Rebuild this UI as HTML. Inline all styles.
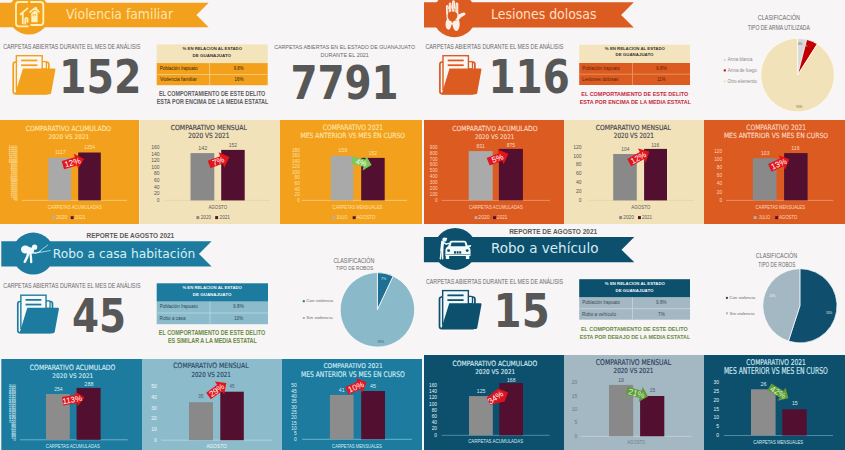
<!DOCTYPE html>
<html lang="es"><head><meta charset="utf-8"><title>Reporte de agosto 2021</title>
<style>
html,body{margin:0;padding:0;background:#f7f5f6}
body{width:845px;height:450px;overflow:hidden;position:relative;font-family:"Liberation Sans",sans-serif}
svg{display:block;position:absolute;left:0;top:0}
text{font-family:"Liberation Sans",sans-serif}
</style></head><body>
<svg width="845" height="450" viewBox="0 0 845 450" font-family="Liberation Sans, Arial, sans-serif">
<polygon points="0,2.7 208.7,2.7 196.4,14.95 208.7,27.2 0,27.2" fill="#f3a01c"/>
<circle cx="28.9" cy="13.8" r="20.8" fill="#f3a01c"/>
<g fill="none" stroke="#fff1b5" stroke-width="1.8" stroke-linecap="round" stroke-linejoin="round"><path d="M27.4,2.0 L18.9,2.0 Q16.0,2.0 16.0,4.9 L16.0,23.6 Q16.0,26.4 18.9,26.4 L27.8,26.4"/><path d="M31.0,2.0 L40.4,2.0 Q43.3,2.0 43.3,4.9 L43.3,22.2 Q43.3,25.0 40.4,25.0 L31.2,25.0"/><path d="M20.6,14.3 L27.5,8.4"/><path d="M22.8,13.2 L22.8,23.4"/><path d="M25.3,23.6 L25.3,18.8 Q26.4,17.2 27.6,18.8 L27.6,21.8"/><path d="M30.1,11.9 L35.2,7.9 L38.8,11.9"/></g>
<path d="M31.3,13.2 L35.2,10.2 L37.6,12.6 L37.6,22.2 L31.3,22.2 Z" fill="#fff1b5"/>
<rect x="32.6" y="14.2" width="1.2" height="1.4" fill="#f3a01c"/><rect x="34.6" y="14.2" width="1.2" height="1.4" fill="#f3a01c"/>
<rect x="35.6" y="7.2" width="1.3" height="2.6" fill="#fff1b5"/>
<text x="65.90" y="18.90" font-size="13.31" fill="#fde6b0" textLength="107.10" lengthAdjust="spacingAndGlyphs" font-family="DejaVu Sans" style="font-family:'DejaVu Sans',sans-serif">Violencia familiar</text>
<text x="3.13" y="48.90" font-size="6.86" fill="#6a6a6a" textLength="137.11" lengthAdjust="spacingAndGlyphs">CARPETAS ABIERTAS DURANTE EL MES DE ANÁLISIS</text>
<g transform="translate(12.30,55.00) scale(1.0163,0.9925)"><rect x="0.9" y="7.2" width="35" height="31.9" rx="2.2" fill="#fbf7f4" stroke="#f3a01c" stroke-width="1.7"/><rect x="28.9" y="6.6" width="4.6" height="7.5" rx="1.3" fill="#fbf7f4" stroke="#f3a01c" stroke-width="1.3"/><rect x="4.0" y="0.7" width="25.4" height="34" fill="#fbf7f4" stroke="#f3a01c" stroke-width="1.4"/><rect x="8.7" y="4.6" width="16" height="1.8" fill="#f3a01c"/><rect x="8.7" y="9.4" width="16" height="1.8" fill="#f3a01c"/><path d="M10.5,13.6 L41.5,13.6 Q42.6,13.6 42.4,14.8 L38.2,38.2 Q38,39.6 36.6,39.6 L2.6,39.6 Z" fill="#f3a01c"/></g>
<text x="58.94" y="92.50" font-size="45.54" fill="#575757" font-weight="bold" textLength="82.49" lengthAdjust="spacingAndGlyphs" font-family="DejaVu Sans" style="font-family:'DejaVu Sans',sans-serif">152</text>
<rect x="156.70" y="44.40" width="111.00" height="18.70" fill="#f4e4bb"/>
<rect x="156.70" y="63.10" width="111.00" height="22.10" fill="#f3a01c"/>
<line x1="156.7" y1="74.5" x2="267.7" y2="74.5" stroke="#f8d08a" stroke-width="0.8"/>
<line x1="209.6" y1="63.1" x2="209.6" y2="85.2" stroke="#f8d08a" stroke-width="0.8"/>
<text x="182.60" y="50.40" font-size="4.14" fill="#3a3530" font-weight="bold" textLength="59.38" lengthAdjust="spacingAndGlyphs">% EN RELACION AL ESTADO</text>
<text x="192.50" y="56.60" font-size="4.14" fill="#3a3530" font-weight="bold" textLength="38.58" lengthAdjust="spacingAndGlyphs">DE GUANAJUATO</text>
<text x="159.73" y="69.75" font-size="5.00" fill="#2e2410" textLength="37.86" lengthAdjust="spacingAndGlyphs">Población Irapuato</text>
<text x="233.80" y="69.75" font-size="5.00" fill="#2e2410" textLength="9.65" lengthAdjust="spacingAndGlyphs">9.8%</text>
<text x="160.08" y="80.65" font-size="5.00" fill="#2e2410" textLength="36.70" lengthAdjust="spacingAndGlyphs">Violencia familiar</text>
<text x="234.46" y="80.65" font-size="5.00" fill="#2e2410" textLength="9.00" lengthAdjust="spacingAndGlyphs">16%</text>
<text x="158.94" y="96.20" font-size="6.29" fill="#5e5e5e" font-weight="bold" textLength="106.39" lengthAdjust="spacingAndGlyphs">EL COMPORTAMIENTO DE ESTE DELITO</text>
<text x="156.65" y="103.90" font-size="6.29" fill="#5e5e5e" font-weight="bold" textLength="111.71" lengthAdjust="spacingAndGlyphs">ESTA POR ENCIMA  DE LA MEDIA ESTATAL</text>
<text x="274.13" y="49.30" font-size="5.71" fill="#6a6a6a" textLength="140.92" lengthAdjust="spacingAndGlyphs">CARPETAS ABIERTAS EN EL ESTADO DE GUANAJUATO</text>
<text x="320.55" y="57.00" font-size="6.00" fill="#6a6a6a" textLength="48.32" lengthAdjust="spacingAndGlyphs">DURANTE EL 2021</text>
<text x="290.40" y="98.70" font-size="45.95" fill="#575757" font-weight="bold" textLength="108.28" lengthAdjust="spacingAndGlyphs" font-family="DejaVu Sans" style="font-family:'DejaVu Sans',sans-serif">7791</text>
<rect x="0.00" y="120.00" width="139.00" height="104.00" fill="#f3a01c"/>
<rect x="139.50" y="120.00" width="140.50" height="104.00" fill="#f2e2b9"/>
<rect x="280.00" y="120.00" width="142.00" height="104.00" fill="#f3a01c"/>
<text x="25.76" y="130.70" font-size="7.13" fill="#fde4ab" textLength="85.37" lengthAdjust="spacingAndGlyphs" font-family="DejaVu Sans" style="font-family:'DejaVu Sans',sans-serif" stroke="#fde4ab" stroke-width="0.15">COMPARATIVO ACUMULADO</text>
<text x="48.58" y="138.80" font-size="6.31" fill="#fde4ab" textLength="40.66" lengthAdjust="spacingAndGlyphs" font-family="DejaVu Sans" style="font-family:'DejaVu Sans',sans-serif" stroke="#fde4ab" stroke-width="0.15">2020 VS 2021</text>
<text x="17.50" y="201.40" font-size="4.0" fill="#fde2ad" text-anchor="end">0</text>
<text x="17.50" y="199.50" font-size="4.0" fill="#fde2ad" text-anchor="end">50</text>
<text x="17.50" y="197.60" font-size="4.0" fill="#fde2ad" text-anchor="end">100</text>
<text x="17.50" y="195.70" font-size="4.0" fill="#fde2ad" text-anchor="end">150</text>
<text x="17.50" y="193.80" font-size="4.0" fill="#fde2ad" text-anchor="end">200</text>
<text x="17.50" y="191.90" font-size="4.0" fill="#fde2ad" text-anchor="end">250</text>
<text x="17.50" y="190.00" font-size="4.0" fill="#fde2ad" text-anchor="end">300</text>
<text x="17.50" y="188.10" font-size="4.0" fill="#fde2ad" text-anchor="end">350</text>
<text x="17.50" y="186.20" font-size="4.0" fill="#fde2ad" text-anchor="end">400</text>
<text x="17.50" y="184.30" font-size="4.0" fill="#fde2ad" text-anchor="end">450</text>
<text x="17.50" y="182.40" font-size="4.0" fill="#fde2ad" text-anchor="end">500</text>
<text x="17.50" y="180.50" font-size="4.0" fill="#fde2ad" text-anchor="end">550</text>
<text x="17.50" y="178.60" font-size="4.0" fill="#fde2ad" text-anchor="end">600</text>
<text x="17.50" y="176.70" font-size="4.0" fill="#fde2ad" text-anchor="end">650</text>
<text x="17.50" y="174.80" font-size="4.0" fill="#fde2ad" text-anchor="end">700</text>
<text x="17.50" y="172.90" font-size="4.0" fill="#fde2ad" text-anchor="end">750</text>
<text x="17.50" y="171.00" font-size="4.0" fill="#fde2ad" text-anchor="end">800</text>
<text x="17.50" y="169.10" font-size="4.0" fill="#fde2ad" text-anchor="end">850</text>
<text x="17.50" y="167.20" font-size="4.0" fill="#fde2ad" text-anchor="end">900</text>
<text x="17.50" y="165.30" font-size="4.0" fill="#fde2ad" text-anchor="end">950</text>
<text x="17.50" y="163.40" font-size="4.0" fill="#fde2ad" text-anchor="end">1000</text>
<text x="17.50" y="161.50" font-size="4.0" fill="#fde2ad" text-anchor="end">1050</text>
<text x="17.50" y="159.60" font-size="4.0" fill="#fde2ad" text-anchor="end">1100</text>
<text x="17.50" y="157.70" font-size="4.0" fill="#fde2ad" text-anchor="end">1150</text>
<text x="17.50" y="155.80" font-size="4.0" fill="#fde2ad" text-anchor="end">1200</text>
<text x="17.50" y="153.90" font-size="4.0" fill="#fde2ad" text-anchor="end">1250</text>
<text x="17.50" y="152.00" font-size="4.0" fill="#fde2ad" text-anchor="end">1300</text>
<text x="17.50" y="150.10" font-size="4.0" fill="#fde2ad" text-anchor="end">1350</text>
<text x="17.50" y="148.20" font-size="4.0" fill="#fde2ad" text-anchor="end">1400</text>
<line x1="22" y1="200.4" x2="127" y2="200.4" stroke="#f8cf85" stroke-width="0.8"/>
<rect x="48.30" y="157.80" width="22.90" height="42.60" fill="#a9a9a9"/>
<rect x="78.20" y="152.50" width="22.60" height="47.90" fill="#520f2f"/>
<text x="54.93" y="154.30" font-size="5.50" fill="#fde4ab" textLength="10.81" lengthAdjust="spacingAndGlyphs">1117</text>
<text x="84.23" y="149.40" font-size="5.50" fill="#fde4ab" textLength="10.71" lengthAdjust="spacingAndGlyphs">1254</text>
<g transform="translate(62.90,165.10) rotate(-16)"><polygon points="0.00,-4.30 13.60,-4.30 13.60,-7.90 22.00,0.00 13.60,7.90 13.60,4.30 0.00,4.30" fill="#e3141b"/><text x="10.00" y="2.95" font-size="8.2" fill="#ffffff" text-anchor="middle">12%</text></g>
<text x="47.68" y="208.50" font-size="4.71" fill="#fde4ab" textLength="54.22" lengthAdjust="spacingAndGlyphs">CARPETAS ACUMULADAS</text>
<rect x="52.00" y="216.20" width="2.90" height="2.90" fill="#b0b0b0"/>
<text x="56.36" y="219.00" font-size="5.00" fill="#fde4ab" textLength="10.73" lengthAdjust="spacingAndGlyphs">2020</text>
<rect x="70.70" y="216.20" width="2.90" height="2.90" fill="#520f2f"/>
<text x="74.55" y="219.00" font-size="5.00" fill="#fde4ab" textLength="10.88" lengthAdjust="spacingAndGlyphs">2021</text>
<text x="170.66" y="129.50" font-size="7.00" fill="#3f3f4d" textLength="76.17" lengthAdjust="spacingAndGlyphs" font-family="DejaVu Sans" style="font-family:'DejaVu Sans',sans-serif" stroke="#3f3f4d" stroke-width="0.15">COMPARATIVO MENSUAL</text>
<text x="188.27" y="138.40" font-size="7.13" fill="#3f3f4d" textLength="41.17" lengthAdjust="spacingAndGlyphs" font-family="DejaVu Sans" style="font-family:'DejaVu Sans',sans-serif" stroke="#3f3f4d" stroke-width="0.15">2020 VS 2021</text>
<text x="159.50" y="201.75" font-size="5.0" fill="#555555" text-anchor="end">0</text>
<text x="159.50" y="195.15" font-size="5.0" fill="#555555" text-anchor="end">20</text>
<text x="159.50" y="188.55" font-size="5.0" fill="#555555" text-anchor="end">40</text>
<text x="159.50" y="181.95" font-size="5.0" fill="#555555" text-anchor="end">60</text>
<text x="159.50" y="175.35" font-size="5.0" fill="#555555" text-anchor="end">80</text>
<text x="159.50" y="168.75" font-size="5.0" fill="#555555" text-anchor="end">100</text>
<text x="159.50" y="162.15" font-size="5.0" fill="#555555" text-anchor="end">120</text>
<text x="159.50" y="155.55" font-size="5.0" fill="#555555" text-anchor="end">140</text>
<text x="159.50" y="148.95" font-size="5.0" fill="#555555" text-anchor="end">160</text>
<line x1="165" y1="200.4" x2="270" y2="200.4" stroke="#e4d3a8" stroke-width="0.8"/>
<rect x="190.50" y="153.10" width="23.80" height="47.30" fill="#898989"/>
<rect x="221.20" y="149.90" width="23.50" height="50.50" fill="#520f2f"/>
<text x="198.19" y="149.60" font-size="5.07" fill="#595959" textLength="9.09" lengthAdjust="spacingAndGlyphs">142</text>
<text x="228.82" y="147.10" font-size="5.36" fill="#595959" textLength="8.33" lengthAdjust="spacingAndGlyphs">152</text>
<g transform="translate(209.10,164.50) rotate(-20.5)"><polygon points="0.00,-3.90 13.20,-3.90 13.20,-8.10 21.70,0.00 13.20,8.10 13.20,3.90 0.00,3.90" fill="#e3141b"/><text x="9.80" y="2.95" font-size="8.2" fill="#ffffff" text-anchor="middle">7%</text></g>
<text x="208.39" y="208.70" font-size="4.86" fill="#595959" textLength="18.72" lengthAdjust="spacingAndGlyphs">AGOSTO</text>
<rect x="196.40" y="216.10" width="2.90" height="3.00" fill="#898989"/>
<text x="200.77" y="219.00" font-size="5.14" fill="#595959" textLength="10.31" lengthAdjust="spacingAndGlyphs">2020</text>
<rect x="215.20" y="216.10" width="2.90" height="3.00" fill="#520f2f"/>
<text x="219.57" y="219.00" font-size="5.14" fill="#595959" textLength="10.36" lengthAdjust="spacingAndGlyphs">2021</text>
<text x="322.77" y="130.20" font-size="7.41" fill="#fde4ab" textLength="60.37" lengthAdjust="spacingAndGlyphs" font-family="DejaVu Sans" style="font-family:'DejaVu Sans',sans-serif" stroke="#fde4ab" stroke-width="0.15">COMPARATIVO 2021</text>
<text x="300.40" y="138.40" font-size="7.13" fill="#fde4ab" textLength="104.64" lengthAdjust="spacingAndGlyphs" font-family="DejaVu Sans" style="font-family:'DejaVu Sans',sans-serif" stroke="#fde4ab" stroke-width="0.15">MES ANTERIOR VS MES EN CURSO</text>
<text x="299.80" y="201.65" font-size="4.7" fill="#fde2ad" text-anchor="end">0</text>
<text x="299.80" y="196.09" font-size="4.7" fill="#fde2ad" text-anchor="end">20</text>
<text x="299.80" y="190.53" font-size="4.7" fill="#fde2ad" text-anchor="end">40</text>
<text x="299.80" y="184.97" font-size="4.7" fill="#fde2ad" text-anchor="end">60</text>
<text x="299.80" y="179.41" font-size="4.7" fill="#fde2ad" text-anchor="end">80</text>
<text x="299.80" y="173.84" font-size="4.7" fill="#fde2ad" text-anchor="end">100</text>
<text x="299.80" y="168.28" font-size="4.7" fill="#fde2ad" text-anchor="end">120</text>
<text x="299.80" y="162.72" font-size="4.7" fill="#fde2ad" text-anchor="end">140</text>
<text x="299.80" y="157.16" font-size="4.7" fill="#fde2ad" text-anchor="end">160</text>
<text x="299.80" y="151.60" font-size="4.7" fill="#fde2ad" text-anchor="end">180</text>
<line x1="302" y1="200.4" x2="407" y2="200.4" stroke="#f8cf85" stroke-width="0.8"/>
<rect x="330.80" y="155.80" width="22.60" height="44.60" fill="#a9a9a9"/>
<rect x="361.20" y="157.90" width="23.50" height="42.50" fill="#520f2f"/>
<text x="338.19" y="152.20" font-size="5.07" fill="#fde4ab" textLength="9.07" lengthAdjust="spacingAndGlyphs">159</text>
<text x="368.83" y="154.50" font-size="5.21" fill="#fde4ab" textLength="8.12" lengthAdjust="spacingAndGlyphs">152</text>
<g transform="translate(351.90,160.00) rotate(14)"><polygon points="0.00,-3.70 12.90,-3.70 12.90,-7.50 20.30,0.00 12.90,7.50 12.90,3.70 0.00,3.70" fill="#7cc858"/><text x="9.65" y="2.74" font-size="7.6" fill="#f0ffe0" text-anchor="middle">4%</text></g>
<text x="332.59" y="208.50" font-size="4.57" fill="#fde4ab" textLength="49.71" lengthAdjust="spacingAndGlyphs">CARPETAS MENSUALES</text>
<rect x="332.40" y="216.20" width="2.90" height="2.90" fill="#b0b0b0"/>
<text x="336.34" y="219.00" font-size="5.00" fill="#fde4ab" textLength="11.15" lengthAdjust="spacingAndGlyphs">JULIO</text>
<rect x="352.70" y="216.20" width="2.90" height="2.90" fill="#520f2f"/>
<text x="356.69" y="219.00" font-size="5.00" fill="#fde4ab" textLength="18.62" lengthAdjust="spacingAndGlyphs">AGOSTO</text>
<polygon points="424,2.3 633.8,2.3 621.1,14.9 633.8,27.5 424,27.5" fill="#dc5b21"/>
<circle cx="454.4" cy="15.2" r="22" fill="#dc5b21"/>
<path d="M446.9,20.2 L446.1,12.6 L445.9,6.6 Q446.1,5.0 447.2,5.0 Q448.3,5.1 448.5,6.6 L448.7,10.4 L448.8,3.8 Q449.0,2.5 450.1,2.5 Q451.3,2.6 451.4,3.9 L451.7,9.8 L452.1,1.4 Q452.3,0.2 453.5,0.2 Q454.9,0.3 455.0,1.6 L455.0,9.8 L455.6,3.6 Q455.9,2.4 457.1,2.5 Q458.3,2.7 458.3,4.0 L458.3,14.4 L462.6,12.7 Q464.6,12.2 465.4,13.4 Q465.9,14.4 464.6,15.3 L460.9,17.6 L458.4,20.6 Z" fill="#fdf0e4"/>
<path d="M448.6,9.5 L448.7,13.5 M451.6,8.8 L451.7,12.8 M454.9,8.9 L454.8,12.8" stroke="#dc5b21" stroke-width="0.8" fill="none" stroke-linecap="round"/>
<path d="M447.6,6.6 L447.7,11.5 M450.1,4.2 L450.2,9.8 M453.5,2.0 L453.5,9.6 M456.9,4.2 L456.9,11.2" stroke="#dc5b21" stroke-width="0.45" fill="none" stroke-linecap="round" opacity="0.55"/>
<path d="M447.2,19.2 C444.9,21.2 444.9,28.8 448.2,29.6 C450.1,30.0 450.7,27.4 451.3,25.8 L452.7,25.8 C453.3,28.6 454.6,31.3 456.7,30.9 C459.8,30.1 460.5,23.0 458.7,19.4 C456.2,21.6 449.8,21.6 447.2,19.2 Z" fill="#fdf0e4"/>
<path d="M451.4,24.6 L452.6,24.6 L452.4,27.0 L451.6,27.0 Z" fill="#dc5b21"/>
<path d="M447.6,15.2 Q447.8,11.2 452.4,11.4 Q457.4,11.4 457.4,15.6 Q457.0,19.4 453.6,21.0 L452.2,23.2 L451.2,21.0 Q447.6,19.6 447.6,15.2 Z" fill="#dc5b21"/>
<text x="491.08" y="19.20" font-size="13.72" fill="#fde0c4" textLength="105.43" lengthAdjust="spacingAndGlyphs" font-family="DejaVu Sans" style="font-family:'DejaVu Sans',sans-serif">Lesiones dolosas</text>
<text x="425.43" y="48.90" font-size="6.57" fill="#6a6a6a" textLength="137.81" lengthAdjust="spacingAndGlyphs">CARPETAS ABIERTAS DURANTE EL MES DE ANÁLISIS</text>
<g transform="translate(439.00,55.00) scale(1.0000,0.9925)"><rect x="0.9" y="7.2" width="35" height="31.9" rx="2.2" fill="#fbf7f4" stroke="#dc5b21" stroke-width="1.7"/><rect x="28.9" y="6.6" width="4.6" height="7.5" rx="1.3" fill="#fbf7f4" stroke="#dc5b21" stroke-width="1.3"/><rect x="4.0" y="0.7" width="25.4" height="34" fill="#fbf7f4" stroke="#dc5b21" stroke-width="1.4"/><rect x="8.7" y="4.6" width="16" height="1.8" fill="#dc5b21"/><rect x="8.7" y="9.4" width="16" height="1.8" fill="#dc5b21"/><path d="M10.5,13.6 L41.5,13.6 Q42.6,13.6 42.4,14.8 L38.2,38.2 Q38,39.6 36.6,39.6 L2.6,39.6 Z" fill="#dc5b21"/></g>
<text x="488.51" y="92.50" font-size="45.54" fill="#575757" font-weight="bold" textLength="81.28" lengthAdjust="spacingAndGlyphs" font-family="DejaVu Sans" style="font-family:'DejaVu Sans',sans-serif">116</text>
<rect x="579.20" y="44.70" width="110.80" height="18.30" fill="#f4e4bd"/>
<rect x="579.20" y="63.00" width="110.80" height="22.00" fill="#dc5b21"/>
<line x1="579.2" y1="74.2" x2="690" y2="74.2" stroke="#eb9a70" stroke-width="0.8"/>
<line x1="632.5" y1="63" x2="632.5" y2="85" stroke="#eb9a70" stroke-width="0.8"/>
<text x="604.89" y="50.10" font-size="4.14" fill="#3a3530" font-weight="bold" textLength="59.98" lengthAdjust="spacingAndGlyphs">% EN RELACION AL ESTADO</text>
<text x="615.51" y="56.40" font-size="4.29" fill="#3a3530" font-weight="bold" textLength="37.97" lengthAdjust="spacingAndGlyphs">DE GUANAJUATO</text>
<text x="582.13" y="69.55" font-size="4.86" fill="#5e2208" textLength="37.76" lengthAdjust="spacingAndGlyphs">Población Irapuato</text>
<text x="656.08" y="69.55" font-size="4.86" fill="#5e2208" textLength="10.79" lengthAdjust="spacingAndGlyphs">9.8%</text>
<text x="582.11" y="80.95" font-size="4.86" fill="#5e2208" textLength="36.36" lengthAdjust="spacingAndGlyphs">Lesiones dolosas</text>
<text x="657.19" y="80.95" font-size="4.86" fill="#5e2208" textLength="8.26" lengthAdjust="spacingAndGlyphs">11%</text>
<text x="581.34" y="96.10" font-size="6.00" fill="#c4283d" font-weight="bold" textLength="106.89" lengthAdjust="spacingAndGlyphs">EL COMPORTAMIENTO DE ESTE DELITO</text>
<text x="579.65" y="103.90" font-size="6.00" fill="#c4283d" font-weight="bold" textLength="111.32" lengthAdjust="spacingAndGlyphs">ESTA POR ENCIMA DE LA MEDIA ESTATAL</text>
<text x="757.72" y="20.20" font-size="6.57" fill="#6a6a6a" textLength="42.23" lengthAdjust="spacingAndGlyphs">CLASIFICACIÓN</text>
<text x="747.69" y="29.90" font-size="6.57" fill="#6a6a6a" textLength="62.02" lengthAdjust="spacingAndGlyphs">TIPO DE ARMA UTILIZADA</text>
<circle cx="797.6" cy="75.1" r="37.4" fill="#fbf1e6"/>
<path d="M797.6,75.1 L797.60,38.30 A36.8,36.8 0 0 1 806.75,39.46 Z" fill="#d9d9d9" stroke="#ffffff" stroke-width="0.7" stroke-linejoin="round"/>
<path d="M797.6,75.1 L806.75,39.46 A36.8,36.8 0 0 1 817.32,44.03 Z" fill="#c00000" stroke="#ffffff" stroke-width="0.7" stroke-linejoin="round"/>
<path d="M797.6,75.1 L817.32,44.03 A36.8,36.8 0 1 1 797.60,38.30 Z" fill="#f2e2b9" stroke="#ffffff" stroke-width="0.7" stroke-linejoin="round"/>
<text x="797.93" y="44.90" font-size="4.00" fill="#555555" textLength="4.17" lengthAdjust="spacingAndGlyphs">4%</text>
<text x="803.08" y="47.10" font-size="4.00" fill="#f3c4c4" textLength="4.22" lengthAdjust="spacingAndGlyphs">5%</text>
<text x="796.26" y="108.30" font-size="4.00" fill="#555555" textLength="6.05" lengthAdjust="spacingAndGlyphs">91%</text>
<rect x="723.80" y="58.90" width="2.00" height="2.00" fill="#d9d9d9"/>
<text x="727.79" y="61.20" font-size="4.43" fill="#888888" textLength="24.61" lengthAdjust="spacingAndGlyphs">Arma blanca</text>
<rect x="723.80" y="69.40" width="2.00" height="2.00" fill="#c00000"/>
<text x="727.79" y="71.70" font-size="4.43" fill="#888888" textLength="28.99" lengthAdjust="spacingAndGlyphs">Arma de fuego</text>
<rect x="723.80" y="80.50" width="2.00" height="2.00" fill="#f2e2b9"/>
<text x="727.58" y="82.80" font-size="4.43" fill="#888888" textLength="29.21" lengthAdjust="spacingAndGlyphs">Otro elemento</text>
<rect x="424.00" y="120.00" width="140.00" height="104.00" fill="#dc5b21"/>
<rect x="564.00" y="120.00" width="140.00" height="104.00" fill="#f2e2b9"/>
<rect x="704.00" y="120.00" width="141.00" height="104.00" fill="#dc5b21"/>
<text x="452.16" y="130.70" font-size="7.13" fill="#fbd9c2" textLength="85.37" lengthAdjust="spacingAndGlyphs" font-family="DejaVu Sans" style="font-family:'DejaVu Sans',sans-serif" stroke="#fbd9c2" stroke-width="0.15">COMPARATIVO ACUMULADO</text>
<text x="474.89" y="138.80" font-size="6.31" fill="#fbd9c2" textLength="39.43" lengthAdjust="spacingAndGlyphs" font-family="DejaVu Sans" style="font-family:'DejaVu Sans',sans-serif" stroke="#fbd9c2" stroke-width="0.15">2020 VS 2021</text>
<text x="437.50" y="201.61" font-size="4.6" fill="#fbd6bd" text-anchor="end">0</text>
<text x="437.50" y="195.75" font-size="4.6" fill="#fbd6bd" text-anchor="end">100</text>
<text x="437.50" y="189.89" font-size="4.6" fill="#fbd6bd" text-anchor="end">200</text>
<text x="437.50" y="184.03" font-size="4.6" fill="#fbd6bd" text-anchor="end">300</text>
<text x="437.50" y="178.17" font-size="4.6" fill="#fbd6bd" text-anchor="end">400</text>
<text x="437.50" y="172.31" font-size="4.6" fill="#fbd6bd" text-anchor="end">500</text>
<text x="437.50" y="166.45" font-size="4.6" fill="#fbd6bd" text-anchor="end">600</text>
<text x="437.50" y="160.59" font-size="4.6" fill="#fbd6bd" text-anchor="end">700</text>
<text x="437.50" y="154.73" font-size="4.6" fill="#fbd6bd" text-anchor="end">800</text>
<text x="437.50" y="148.87" font-size="4.6" fill="#fbd6bd" text-anchor="end">900</text>
<line x1="441.5" y1="200.4" x2="550" y2="200.4" stroke="#eb9a70" stroke-width="0.8"/>
<rect x="468.70" y="151.10" width="24.00" height="49.30" fill="#aaaaaa"/>
<rect x="498.90" y="148.90" width="24.00" height="51.50" fill="#520f2f"/>
<text x="476.58" y="147.70" font-size="4.93" fill="#fbd9c2" textLength="8.26" lengthAdjust="spacingAndGlyphs">831</text>
<text x="506.78" y="146.90" font-size="5.07" fill="#fbd9c2" textLength="8.33" lengthAdjust="spacingAndGlyphs">875</text>
<g transform="translate(488.20,161.80) rotate(-21.5)"><polygon points="0.00,-4.10 13.40,-4.10 13.40,-8.00 21.80,0.00 13.40,8.00 13.40,4.10 0.00,4.10" fill="#e3141b"/><text x="9.90" y="2.95" font-size="8.2" fill="#ffffff" text-anchor="middle">5%</text></g>
<text x="468.88" y="208.60" font-size="4.71" fill="#fbd9c2" textLength="53.91" lengthAdjust="spacingAndGlyphs">CARPETAS ACUMULADAS</text>
<rect x="474.60" y="216.20" width="2.90" height="2.90" fill="#b0b0b0"/>
<text x="478.35" y="219.00" font-size="5.00" fill="#fbd9c2" textLength="11.25" lengthAdjust="spacingAndGlyphs">2020</text>
<rect x="493.10" y="216.20" width="2.90" height="2.90" fill="#520f2f"/>
<text x="497.07" y="219.00" font-size="5.00" fill="#fbd9c2" textLength="10.36" lengthAdjust="spacingAndGlyphs">2021</text>
<text x="595.66" y="129.50" font-size="7.00" fill="#3f3f4d" textLength="75.27" lengthAdjust="spacingAndGlyphs" font-family="DejaVu Sans" style="font-family:'DejaVu Sans',sans-serif" stroke="#3f3f4d" stroke-width="0.15">COMPARATIVO MENSUAL</text>
<text x="613.78" y="138.40" font-size="7.13" fill="#3f3f4d" textLength="40.14" lengthAdjust="spacingAndGlyphs" font-family="DejaVu Sans" style="font-family:'DejaVu Sans',sans-serif" stroke="#3f3f4d" stroke-width="0.15">2020 VS 2021</text>
<text x="581.50" y="201.75" font-size="5.0" fill="#555555" text-anchor="end">0</text>
<text x="581.50" y="192.93" font-size="5.0" fill="#555555" text-anchor="end">20</text>
<text x="581.50" y="184.11" font-size="5.0" fill="#555555" text-anchor="end">40</text>
<text x="581.50" y="175.29" font-size="5.0" fill="#555555" text-anchor="end">60</text>
<text x="581.50" y="166.47" font-size="5.0" fill="#555555" text-anchor="end">80</text>
<text x="581.50" y="157.65" font-size="5.0" fill="#555555" text-anchor="end">100</text>
<text x="581.50" y="148.83" font-size="5.0" fill="#555555" text-anchor="end">120</text>
<line x1="589" y1="200.4" x2="694" y2="200.4" stroke="#e4d3a8" stroke-width="0.8"/>
<rect x="613.20" y="154.00" width="23.60" height="46.40" fill="#898989"/>
<rect x="644.10" y="148.90" width="22.90" height="51.50" fill="#520f2f"/>
<text x="621.33" y="150.60" font-size="4.93" fill="#595959" textLength="8.01" lengthAdjust="spacingAndGlyphs">104</text>
<text x="651.33" y="147.30" font-size="5.07" fill="#595959" textLength="8.08" lengthAdjust="spacingAndGlyphs">116</text>
<g transform="translate(629.20,162.60) rotate(-28.8)"><polygon points="0.00,-4.10 14.40,-4.10 14.40,-8.10 23.00,0.00 14.40,8.10 14.40,4.10 0.00,4.10" fill="#e3141b"/><text x="10.40" y="2.95" font-size="8.2" fill="#ffffff" text-anchor="middle">12%</text></g>
<text x="631.29" y="208.60" font-size="4.86" fill="#595959" textLength="19.02" lengthAdjust="spacingAndGlyphs">AGOSTO</text>
<rect x="619.20" y="216.10" width="2.90" height="3.00" fill="#898989"/>
<text x="623.26" y="219.00" font-size="5.14" fill="#595959" textLength="10.73" lengthAdjust="spacingAndGlyphs">2020</text>
<rect x="638.00" y="216.10" width="2.90" height="3.00" fill="#520f2f"/>
<text x="642.07" y="219.00" font-size="5.14" fill="#595959" textLength="10.05" lengthAdjust="spacingAndGlyphs">2021</text>
<text x="746.37" y="130.20" font-size="7.41" fill="#fbd9c2" textLength="59.66" lengthAdjust="spacingAndGlyphs" font-family="DejaVu Sans" style="font-family:'DejaVu Sans',sans-serif" stroke="#fbd9c2" stroke-width="0.15">COMPARATIVO 2021</text>
<text x="723.91" y="138.40" font-size="7.13" fill="#fbd9c2" textLength="104.13" lengthAdjust="spacingAndGlyphs" font-family="DejaVu Sans" style="font-family:'DejaVu Sans',sans-serif" stroke="#fbd9c2" stroke-width="0.15">MES ANTERIOR VS MES EN CURSO</text>
<text x="722.20" y="201.68" font-size="4.8" fill="#fbd6bd" text-anchor="end">0</text>
<text x="722.20" y="193.58" font-size="4.8" fill="#fbd6bd" text-anchor="end">20</text>
<text x="722.20" y="185.48" font-size="4.8" fill="#fbd6bd" text-anchor="end">40</text>
<text x="722.20" y="177.38" font-size="4.8" fill="#fbd6bd" text-anchor="end">60</text>
<text x="722.20" y="169.28" font-size="4.8" fill="#fbd6bd" text-anchor="end">80</text>
<text x="722.20" y="161.18" font-size="4.8" fill="#fbd6bd" text-anchor="end">100</text>
<text x="722.20" y="153.08" font-size="4.8" fill="#fbd6bd" text-anchor="end">120</text>
<line x1="726" y1="200.4" x2="833.5" y2="200.4" stroke="#eb9a70" stroke-width="0.8"/>
<rect x="752.80" y="158.20" width="23.70" height="42.20" fill="#898989"/>
<rect x="784.10" y="153.10" width="23.50" height="47.30" fill="#520f2f"/>
<text x="761.12" y="154.50" font-size="5.21" fill="#fbd9c2" textLength="8.30" lengthAdjust="spacingAndGlyphs">103</text>
<text x="791.32" y="149.80" font-size="5.07" fill="#fbd9c2" textLength="8.30" lengthAdjust="spacingAndGlyphs">116</text>
<g transform="translate(769.80,167.80) rotate(-23.9)"><polygon points="0.00,-4.20 13.20,-4.20 13.20,-7.90 21.40,0.00 13.20,7.90 13.20,4.20 0.00,4.20" fill="#e3141b"/><text x="9.80" y="2.95" font-size="8.2" fill="#ffffff" text-anchor="middle">13%</text></g>
<text x="755.59" y="208.60" font-size="4.71" fill="#fbd9c2" textLength="49.40" lengthAdjust="spacingAndGlyphs">CARPETAS MENSUALES</text>
<rect x="753.70" y="216.20" width="2.90" height="2.90" fill="#b0b0b0"/>
<text x="758.64" y="219.00" font-size="5.00" fill="#fbd9c2" textLength="11.46" lengthAdjust="spacingAndGlyphs">JULIO</text>
<rect x="775.20" y="216.20" width="2.90" height="2.90" fill="#520f2f"/>
<text x="778.99" y="219.00" font-size="5.00" fill="#fbd9c2" textLength="18.41" lengthAdjust="spacingAndGlyphs">AGOSTO</text>
<text x="86.57" y="238.20" font-size="7.29" fill="#5a5a5a" font-weight="bold" textLength="87.61" lengthAdjust="spacingAndGlyphs">REPORTE DE AGOSTO 2021</text>
<polygon points="1.3,241.3 211.6,241.3 198.9,253.9 211.6,266.5 1.3,266.5" fill="#1c7b9e"/>
<circle cx="33.2" cy="253.6" r="21" fill="#1c7b9e"/>
<g fill="#f4fbfd"><ellipse cx="25.4" cy="249.4" rx="4.4" ry="4.0"/><ellipse cx="29.6" cy="250.6" rx="4.4" ry="3.4"/><circle cx="34.6" cy="247.2" r="2.6"/><path d="M32.2,246.4 L37.0,245.8 L36.6,248.0 L32.4,248.8 Z"/></g>
<g stroke="#f4fbfd" stroke-linecap="round" stroke-linejoin="round" fill="none"><path d="M28.4,252.8 L27.0,257.4 L24.8,261.8" stroke-width="2.5"/><path d="M30.4,253.2 L31.0,257.8 L31.2,262.2" stroke-width="2.3"/><path d="M32.0,252.8 L36.2,253.0 L40.2,251.8" stroke-width="1.3"/></g>
<g stroke="#a9dcef" stroke-width="0.9" stroke-linecap="round" fill="none"><path d="M39.4,251.4 L47.6,245.2"/><path d="M40.8,252.2 L50.2,250.6"/></g>
<text x="52.80" y="257.90" font-size="12.62" fill="#d6f0f8" textLength="142.44" lengthAdjust="spacingAndGlyphs" font-family="DejaVu Sans" style="font-family:'DejaVu Sans',sans-serif">Robo a casa habitación</text>
<text x="3.33" y="288.00" font-size="7.14" fill="#6a6a6a" textLength="137.11" lengthAdjust="spacingAndGlyphs">CARPETAS ABIERTAS DURANTE EL MES DE ANÁLISIS</text>
<g transform="translate(16.90,294.50) scale(0.9907,0.9775)"><rect x="0.9" y="7.2" width="35" height="31.9" rx="2.2" fill="#f6fafb" stroke="#1c7b9e" stroke-width="1.7"/><rect x="28.9" y="6.6" width="4.6" height="7.5" rx="1.3" fill="#f6fafb" stroke="#1c7b9e" stroke-width="1.3"/><rect x="4.0" y="0.7" width="25.4" height="34" fill="#f6fafb" stroke="#1c7b9e" stroke-width="1.4"/><rect x="8.7" y="4.6" width="16" height="1.8" fill="#1c7b9e"/><rect x="8.7" y="9.4" width="16" height="1.8" fill="#1c7b9e"/><path d="M10.5,13.6 L41.5,13.6 Q42.6,13.6 42.4,14.8 L38.2,38.2 Q38,39.6 36.6,39.6 L2.6,39.6 Z" fill="#1c7b9e"/></g>
<text x="71.95" y="331.90" font-size="45.54" fill="#575757" font-weight="bold" textLength="54.17" lengthAdjust="spacingAndGlyphs" font-family="DejaVu Sans" style="font-family:'DejaVu Sans',sans-serif">45</text>
<rect x="156.70" y="283.30" width="111.30" height="18.40" fill="#1c7b9e"/>
<rect x="156.70" y="301.70" width="111.30" height="22.50" fill="#8cbccb"/>
<line x1="156.7" y1="313" x2="268" y2="313" stroke="#b8d8e2" stroke-width="0.8"/>
<line x1="210" y1="301.7" x2="210" y2="324.2" stroke="#b8d8e2" stroke-width="0.8"/>
<text x="182.40" y="289.00" font-size="4.29" fill="#f0f8fb" font-weight="bold" textLength="59.48" lengthAdjust="spacingAndGlyphs">% EN RELACION AL ESTADO</text>
<text x="192.70" y="295.50" font-size="4.29" fill="#f0f8fb" font-weight="bold" textLength="38.68" lengthAdjust="spacingAndGlyphs">DE GUANAJUATO</text>
<text x="159.63" y="308.45" font-size="4.86" fill="#2a4656" textLength="38.07" lengthAdjust="spacingAndGlyphs">Población Irapuato</text>
<text x="233.08" y="308.45" font-size="4.86" fill="#2a4656" textLength="10.79" lengthAdjust="spacingAndGlyphs">9.8%</text>
<text x="159.62" y="319.75" font-size="4.86" fill="#2a4656" textLength="25.88" lengthAdjust="spacingAndGlyphs">Robo a casa</text>
<text x="234.37" y="319.75" font-size="4.86" fill="#2a4656" textLength="8.79" lengthAdjust="spacingAndGlyphs">10%</text>
<text x="158.84" y="335.00" font-size="6.43" fill="#6b8a3e" font-weight="bold" textLength="106.39" lengthAdjust="spacingAndGlyphs">EL COMPORTAMIENTO DE ESTE DELITO</text>
<text x="167.95" y="342.70" font-size="6.71" fill="#6b8a3e" font-weight="bold" textLength="88.91" lengthAdjust="spacingAndGlyphs">ES SIMILAR  A LA MEDIA ESTATAL</text>
<text x="333.53" y="262.50" font-size="6.57" fill="#6a6a6a" textLength="40.80" lengthAdjust="spacingAndGlyphs">CLASIFICACIÓN</text>
<text x="336.09" y="270.20" font-size="6.00" fill="#6a6a6a" textLength="36.92" lengthAdjust="spacingAndGlyphs">TIPO DE ROBOS</text>
<path d="M377.4,309.8 L377.40,272.60 A37.2,37.2 0 0 1 393.24,276.14 Z" fill="#1f6f95" stroke="#ffffff" stroke-width="0.7" stroke-linejoin="round"/>
<path d="M377.4,309.8 L393.24,276.14 A37.2,37.2 0 1 1 377.40,272.60 Z" fill="#8ab9c9" stroke="#ffffff" stroke-width="0.7" stroke-linejoin="round"/>
<text x="381.02" y="279.90" font-size="4.14" fill="#cfe8f2" textLength="5.11" lengthAdjust="spacingAndGlyphs">7%</text>
<text x="377.85" y="343.10" font-size="4.14" fill="#3c5a68" textLength="6.26" lengthAdjust="spacingAndGlyphs">93%</text>
<rect x="302.80" y="300.20" width="2.00" height="2.00" fill="#1f6f95"/>
<text x="306.37" y="302.40" font-size="4.29" fill="#6a6a6a" textLength="26.73" lengthAdjust="spacingAndGlyphs">Con violencia</text>
<rect x="302.80" y="317.00" width="2.00" height="2.00" fill="#8ab9c9"/>
<text x="306.39" y="319.20" font-size="4.29" fill="#6a6a6a" textLength="26.11" lengthAdjust="spacingAndGlyphs">Sin violencia</text>
<rect x="1.30" y="359.00" width="140.70" height="91.00" fill="#1c7b9e"/>
<rect x="142.00" y="359.00" width="140.00" height="91.00" fill="#8cbccb"/>
<rect x="282.00" y="359.00" width="140.00" height="91.00" fill="#1c7b9e"/>
<text x="29.86" y="369.50" font-size="7.27" fill="#d3edf6" textLength="85.48" lengthAdjust="spacingAndGlyphs" font-family="DejaVu Sans" style="font-family:'DejaVu Sans',sans-serif" stroke="#d3edf6" stroke-width="0.15">COMPARATIVO ACUMULADO</text>
<text x="52.37" y="377.90" font-size="6.31" fill="#d3edf6" textLength="40.96" lengthAdjust="spacingAndGlyphs" font-family="DejaVu Sans" style="font-family:'DejaVu Sans',sans-serif" stroke="#d3edf6" stroke-width="0.15">2020 VS 2021</text>
<text x="15.80" y="440.97" font-size="4.2" fill="#cfe9f3" text-anchor="end">0</text>
<text x="15.80" y="439.18" font-size="4.2" fill="#cfe9f3" text-anchor="end">10</text>
<text x="15.80" y="437.39" font-size="4.2" fill="#cfe9f3" text-anchor="end">20</text>
<text x="15.80" y="435.60" font-size="4.2" fill="#cfe9f3" text-anchor="end">30</text>
<text x="15.80" y="433.81" font-size="4.2" fill="#cfe9f3" text-anchor="end">40</text>
<text x="15.80" y="432.02" font-size="4.2" fill="#cfe9f3" text-anchor="end">50</text>
<text x="15.80" y="430.23" font-size="4.2" fill="#cfe9f3" text-anchor="end">60</text>
<text x="15.80" y="428.44" font-size="4.2" fill="#cfe9f3" text-anchor="end">70</text>
<text x="15.80" y="426.65" font-size="4.2" fill="#cfe9f3" text-anchor="end">80</text>
<text x="15.80" y="424.86" font-size="4.2" fill="#cfe9f3" text-anchor="end">90</text>
<text x="15.80" y="423.07" font-size="4.2" fill="#cfe9f3" text-anchor="end">100</text>
<text x="15.80" y="421.28" font-size="4.2" fill="#cfe9f3" text-anchor="end">110</text>
<text x="15.80" y="419.49" font-size="4.2" fill="#cfe9f3" text-anchor="end">120</text>
<text x="15.80" y="417.70" font-size="4.2" fill="#cfe9f3" text-anchor="end">130</text>
<text x="15.80" y="415.91" font-size="4.2" fill="#cfe9f3" text-anchor="end">140</text>
<text x="15.80" y="414.12" font-size="4.2" fill="#cfe9f3" text-anchor="end">150</text>
<text x="15.80" y="412.33" font-size="4.2" fill="#cfe9f3" text-anchor="end">160</text>
<text x="15.80" y="410.54" font-size="4.2" fill="#cfe9f3" text-anchor="end">170</text>
<text x="15.80" y="408.75" font-size="4.2" fill="#cfe9f3" text-anchor="end">180</text>
<text x="15.80" y="406.96" font-size="4.2" fill="#cfe9f3" text-anchor="end">190</text>
<text x="15.80" y="405.17" font-size="4.2" fill="#cfe9f3" text-anchor="end">200</text>
<text x="15.80" y="403.38" font-size="4.2" fill="#cfe9f3" text-anchor="end">210</text>
<text x="15.80" y="401.59" font-size="4.2" fill="#cfe9f3" text-anchor="end">220</text>
<text x="15.80" y="399.80" font-size="4.2" fill="#cfe9f3" text-anchor="end">230</text>
<text x="15.80" y="398.01" font-size="4.2" fill="#cfe9f3" text-anchor="end">240</text>
<text x="15.80" y="396.22" font-size="4.2" fill="#cfe9f3" text-anchor="end">250</text>
<text x="15.80" y="394.43" font-size="4.2" fill="#cfe9f3" text-anchor="end">260</text>
<text x="15.80" y="392.64" font-size="4.2" fill="#cfe9f3" text-anchor="end">270</text>
<text x="15.80" y="390.85" font-size="4.2" fill="#cfe9f3" text-anchor="end">280</text>
<text x="15.80" y="389.06" font-size="4.2" fill="#cfe9f3" text-anchor="end">290</text>
<text x="15.80" y="387.27" font-size="4.2" fill="#cfe9f3" text-anchor="end">300</text>
<line x1="20" y1="439.8" x2="127.7" y2="439.8" stroke="#7fc0da" stroke-width="0.8"/>
<rect x="46.00" y="394.00" width="23.80" height="45.80" fill="#8c8c8c"/>
<rect x="76.60" y="387.90" width="24.00" height="51.90" fill="#520f2f"/>
<text x="54.25" y="390.70" font-size="5.07" fill="#d3edf6" textLength="8.30" lengthAdjust="spacingAndGlyphs">254</text>
<text x="84.32" y="386.20" font-size="5.07" fill="#d3edf6" textLength="9.22" lengthAdjust="spacingAndGlyphs">288</text>
<g transform="translate(62.60,401.30) rotate(-9.9)"><polygon points="0.00,-4.30 14.10,-4.30 14.10,-7.40 22.10,0.00 14.10,7.40 14.10,4.30 0.00,4.30" fill="#e3141b"/><text x="9.75" y="2.88" font-size="8.0" fill="#ffffff" text-anchor="middle">113%</text></g>
<text x="45.78" y="447.80" font-size="4.86" fill="#d3edf6" textLength="54.01" lengthAdjust="spacingAndGlyphs">CARPETAS ACUMULADAS</text>
<text x="173.36" y="368.40" font-size="7.27" fill="#2b4463" textLength="75.27" lengthAdjust="spacingAndGlyphs" font-family="DejaVu Sans" style="font-family:'DejaVu Sans',sans-serif" stroke="#2b4463" stroke-width="0.15">COMPARATIVO MENSUAL</text>
<text x="191.49" y="376.70" font-size="7.00" fill="#2b4463" textLength="39.32" lengthAdjust="spacingAndGlyphs" font-family="DejaVu Sans" style="font-family:'DejaVu Sans',sans-serif" stroke="#2b4463" stroke-width="0.15">2020 VS 2021</text>
<text x="156.80" y="441.75" font-size="5.0" fill="#f2f9fb" text-anchor="end">0</text>
<text x="156.80" y="431.00" font-size="5.0" fill="#f2f9fb" text-anchor="end">10</text>
<text x="156.80" y="420.25" font-size="5.0" fill="#f2f9fb" text-anchor="end">20</text>
<text x="156.80" y="409.50" font-size="5.0" fill="#f2f9fb" text-anchor="end">30</text>
<text x="156.80" y="398.75" font-size="5.0" fill="#f2f9fb" text-anchor="end">40</text>
<text x="156.80" y="388.00" font-size="5.0" fill="#f2f9fb" text-anchor="end">50</text>
<line x1="161" y1="440.2" x2="272" y2="440.2" stroke="#b8d8e2" stroke-width="0.8"/>
<rect x="189.00" y="402.20" width="24.00" height="38.00" fill="#898989"/>
<rect x="220.30" y="391.70" width="23.50" height="48.50" fill="#520f2f"/>
<text x="197.90" y="398.40" font-size="5.07" fill="#4a6472" textLength="5.71" lengthAdjust="spacingAndGlyphs">35</text>
<text x="229.49" y="388.00" font-size="4.79" fill="#4a6472" textLength="5.20" lengthAdjust="spacingAndGlyphs">45</text>
<g transform="translate(208.50,396.00) rotate(-35.9)"><polygon points="0.00,-4.00 13.60,-4.00 13.60,-8.00 22.00,0.00 13.60,8.00 13.60,4.00 0.00,4.00" fill="#e3141b"/><text x="10.00" y="2.95" font-size="8.2" fill="#ffffff" text-anchor="middle">29%</text></g>
<text x="206.39" y="448.10" font-size="4.86" fill="#eef7fa" textLength="20.34" lengthAdjust="spacingAndGlyphs">AGOSTO</text>
<text x="323.47" y="368.40" font-size="6.58" fill="#d3edf6" textLength="59.36" lengthAdjust="spacingAndGlyphs" font-family="DejaVu Sans" style="font-family:'DejaVu Sans',sans-serif" stroke="#d3edf6" stroke-width="0.15">COMPARATIVO 2021</text>
<text x="301.01" y="377.20" font-size="7.68" fill="#d3edf6" textLength="103.83" lengthAdjust="spacingAndGlyphs" font-family="DejaVu Sans" style="font-family:'DejaVu Sans',sans-serif" stroke="#d3edf6" stroke-width="0.15">MES ANTERIOR VS MES EN CURSO</text>
<text x="296.80" y="440.71" font-size="4.9" fill="#e0f2f8" text-anchor="end">0</text>
<text x="296.80" y="435.36" font-size="4.9" fill="#e0f2f8" text-anchor="end">5</text>
<text x="296.80" y="430.01" font-size="4.9" fill="#e0f2f8" text-anchor="end">10</text>
<text x="296.80" y="424.66" font-size="4.9" fill="#e0f2f8" text-anchor="end">15</text>
<text x="296.80" y="419.31" font-size="4.9" fill="#e0f2f8" text-anchor="end">20</text>
<text x="296.80" y="413.96" font-size="4.9" fill="#e0f2f8" text-anchor="end">25</text>
<text x="296.80" y="408.61" font-size="4.9" fill="#e0f2f8" text-anchor="end">30</text>
<text x="296.80" y="403.26" font-size="4.9" fill="#e0f2f8" text-anchor="end">35</text>
<text x="296.80" y="397.91" font-size="4.9" fill="#e0f2f8" text-anchor="end">40</text>
<text x="296.80" y="392.56" font-size="4.9" fill="#e0f2f8" text-anchor="end">45</text>
<text x="296.80" y="387.21" font-size="4.9" fill="#e0f2f8" text-anchor="end">50</text>
<line x1="302" y1="439.3" x2="412" y2="439.3" stroke="#7fc0da" stroke-width="0.8"/>
<rect x="329.90" y="394.90" width="23.70" height="44.40" fill="#8c8c8c"/>
<rect x="361.20" y="391.00" width="23.80" height="48.30" fill="#520f2f"/>
<text x="338.88" y="391.80" font-size="5.07" fill="#d3edf6" textLength="5.67" lengthAdjust="spacingAndGlyphs">41</text>
<text x="369.98" y="387.60" font-size="5.21" fill="#d3edf6" textLength="6.05" lengthAdjust="spacingAndGlyphs">45</text>
<g transform="translate(346.90,390.70) rotate(-23.2)"><polygon points="0.00,-4.00 13.30,-4.00 13.30,-7.80 21.50,0.00 13.30,7.80 13.30,4.00 0.00,4.00" fill="#e3141b"/><text x="9.85" y="2.95" font-size="8.2" fill="#ffffff" text-anchor="middle">10%</text></g>
<text x="332.09" y="447.50" font-size="5.00" fill="#d3edf6" textLength="49.81" lengthAdjust="spacingAndGlyphs">CARPETAS MENSUALES</text>
<text x="509.17" y="234.10" font-size="7.00" fill="#5a5a5a" font-weight="bold" textLength="88.01" lengthAdjust="spacingAndGlyphs">REPORTE DE AGOSTO 2021</text>
<polygon points="423.9,237 634.3,237 621.5,249.65 634.3,262.3 423.9,262.3" fill="#0c506d"/>
<circle cx="455.2" cy="248.9" r="21" fill="#0c506d"/>
<g fill="#f4fbfd"><path d="M449.4,242.4 Q449.9,240.7 451.6,240.7 L464.4,240.7 Q466.1,240.7 466.6,242.4 L467.6,245.6 L470.6,245.0 Q471.6,245.2 471.0,246.4 L469.2,247.2 Q470.5,248.2 470.5,250.2 L470.5,255.9 L445.4,255.9 L445.4,250.2 Q445.4,248.2 446.7,247.2 L448.2,246.0 Z"/><rect x="445.8" y="255.4" width="3.4" height="3.7" rx="0.7"/><rect x="465.9" y="255.4" width="3.4" height="3.7" rx="0.7"/><circle cx="444.6" cy="239.6" r="2.2"/><path d="M442.6,238.6 L446.8,237.8 L447.4,239.0 L443.2,239.8 Z"/></g>
<g fill="#0c506d"><path d="M450.6,246.3 L451.6,242.4 L464.6,242.4 L465.6,246.3 Z"/><circle cx="448.6" cy="250.6" r="1.45"/><circle cx="467.2" cy="250.6" r="1.45"/><rect x="454.0" y="251.2" width="2.0" height="2.4"/><rect x="456.6" y="251.2" width="2.0" height="2.4"/><rect x="459.2" y="251.2" width="2.0" height="2.4"/><rect x="446.2" y="254.3" width="23.8" height="0.5"/></g>
<g stroke="#0c506d" stroke-width="3.6" stroke-linecap="round" fill="none"><path d="M442.0,242.4 L441.6,249.6 L440.6,258.6"/></g>
<g stroke="#f4fbfd" stroke-linecap="round" stroke-linejoin="round" fill="none"><path d="M442.6,242.0 L441.8,249.8" stroke-width="3.0"/><path d="M441.4,249.4 L440.4,258.8" stroke-width="1.5"/><path d="M442.6,249.4 L442.6,258.8" stroke-width="1.5"/><path d="M443.4,242.4 L446.2,244.2 L448.6,243.4" stroke-width="1.4"/></g>
<text x="490.98" y="253.30" font-size="13.31" fill="#d6ebf3" textLength="107.45" lengthAdjust="spacingAndGlyphs" font-family="DejaVu Sans" style="font-family:'DejaVu Sans',sans-serif">Robo a vehículo</text>
<text x="425.93" y="283.90" font-size="7.00" fill="#6a6a6a" textLength="137.21" lengthAdjust="spacingAndGlyphs">CARPETAS ABIERTAS DURANTE EL MES DE ANÁLISIS</text>
<g transform="translate(438.60,289.90) scale(1.0116,0.9900)"><rect x="0.9" y="7.2" width="35" height="31.9" rx="2.2" fill="#f4f7f9" stroke="#0c506d" stroke-width="1.7"/><rect x="28.9" y="6.6" width="4.6" height="7.5" rx="1.3" fill="#f4f7f9" stroke="#0c506d" stroke-width="1.3"/><rect x="4.0" y="0.7" width="25.4" height="34" fill="#f4f7f9" stroke="#0c506d" stroke-width="1.4"/><rect x="8.7" y="4.6" width="16" height="1.8" fill="#0c506d"/><rect x="8.7" y="9.4" width="16" height="1.8" fill="#0c506d"/><path d="M10.5,13.6 L41.5,13.6 Q42.6,13.6 42.4,14.8 L38.2,38.2 Q38,39.6 36.6,39.6 L2.6,39.6 Z" fill="#0c506d"/></g>
<text x="493.55" y="327.40" font-size="46.23" fill="#575757" font-weight="bold" textLength="56.17" lengthAdjust="spacingAndGlyphs" font-family="DejaVu Sans" style="font-family:'DejaVu Sans',sans-serif">15</text>
<rect x="579.20" y="279.20" width="110.80" height="18.30" fill="#0c506d"/>
<rect x="579.20" y="297.50" width="110.80" height="22.20" fill="#a4b8c3"/>
<line x1="579.2" y1="308.7" x2="690" y2="308.7" stroke="#c8d5dc" stroke-width="0.8"/>
<line x1="632.5" y1="297.5" x2="632.5" y2="319.7" stroke="#c8d5dc" stroke-width="0.8"/>
<text x="604.89" y="285.10" font-size="4.14" fill="#eef5f8" font-weight="bold" textLength="59.98" lengthAdjust="spacingAndGlyphs">% EN RELACION AL ESTADO</text>
<text x="615.51" y="291.50" font-size="4.29" fill="#eef5f8" font-weight="bold" textLength="37.97" lengthAdjust="spacingAndGlyphs">DE GUANAJUATO</text>
<text x="582.13" y="304.25" font-size="4.86" fill="#3a4a55" textLength="37.76" lengthAdjust="spacingAndGlyphs">Población Irapuato</text>
<text x="656.09" y="304.25" font-size="4.86" fill="#3a4a55" textLength="10.38" lengthAdjust="spacingAndGlyphs">9.8%</text>
<text x="582.12" y="315.95" font-size="4.86" fill="#3a4a55" textLength="33.88" lengthAdjust="spacingAndGlyphs">Robo a vehículo</text>
<text x="658.06" y="315.95" font-size="4.86" fill="#3a4a55" textLength="6.81" lengthAdjust="spacingAndGlyphs">7%</text>
<text x="580.94" y="331.10" font-size="6.00" fill="#6b8a3e" font-weight="bold" textLength="106.79" lengthAdjust="spacingAndGlyphs">EL COMPORTAMIENTO DE ESTE DELITO</text>
<text x="579.65" y="338.90" font-size="6.00" fill="#6b8a3e" font-weight="bold" textLength="110.51" lengthAdjust="spacingAndGlyphs">ESTA POR DEBAJO DE LA MEDIA ESTATAL</text>
<text x="755.73" y="258.00" font-size="6.86" fill="#6a6a6a" textLength="41.52" lengthAdjust="spacingAndGlyphs">CLASIFICACIÓN</text>
<text x="758.29" y="266.60" font-size="6.29" fill="#6a6a6a" textLength="37.02" lengthAdjust="spacingAndGlyphs">TIPO DE ROBOS</text>
<path d="M799.9,305.8 L799.90,268.70 A37.1,37.1 0 1 1 788.44,341.08 Z" fill="#0f4f6d" stroke="#ffffff" stroke-width="0.7" stroke-linejoin="round"/>
<path d="M799.9,305.8 L788.44,341.08 A37.1,37.1 0 0 1 799.90,268.70 Z" fill="#a3b8c3" stroke="#ffffff" stroke-width="0.7" stroke-linejoin="round"/>
<text x="769.53" y="297.30" font-size="4.00" fill="#f0f5f8" textLength="5.97" lengthAdjust="spacingAndGlyphs">45%</text>
<text x="826.28" y="314.00" font-size="4.00" fill="#e0ecf2" textLength="6.03" lengthAdjust="spacingAndGlyphs">55%</text>
<rect x="725.90" y="296.90" width="2.00" height="2.00" fill="#0f4f6d"/>
<text x="729.38" y="299.20" font-size="4.29" fill="#6a6a6a" textLength="25.82" lengthAdjust="spacingAndGlyphs">Con violencia</text>
<rect x="725.90" y="312.30" width="2.00" height="2.00" fill="#a3b8c3"/>
<text x="729.40" y="314.60" font-size="4.29" fill="#6a6a6a" textLength="25.20" lengthAdjust="spacingAndGlyphs">Sin violencia</text>
<rect x="424.00" y="355.00" width="140.00" height="95.00" fill="#0c506d"/>
<rect x="564.00" y="355.00" width="140.00" height="95.00" fill="#a4b8c3"/>
<rect x="704.00" y="355.00" width="141.00" height="95.00" fill="#0c506d"/>
<text x="452.57" y="365.70" font-size="7.27" fill="#d5e9f1" textLength="84.67" lengthAdjust="spacingAndGlyphs" font-family="DejaVu Sans" style="font-family:'DejaVu Sans',sans-serif" stroke="#d5e9f1" stroke-width="0.15">COMPARATIVO ACUMULADO</text>
<text x="475.18" y="374.10" font-size="6.58" fill="#d5e9f1" textLength="40.04" lengthAdjust="spacingAndGlyphs" font-family="DejaVu Sans" style="font-family:'DejaVu Sans',sans-serif" stroke="#d5e9f1" stroke-width="0.15">2020 VS 2021</text>
<text x="437.00" y="436.68" font-size="4.8" fill="#e2f0f6" text-anchor="end">0</text>
<text x="437.00" y="430.48" font-size="4.8" fill="#e2f0f6" text-anchor="end">20</text>
<text x="437.00" y="424.28" font-size="4.8" fill="#e2f0f6" text-anchor="end">40</text>
<text x="437.00" y="418.08" font-size="4.8" fill="#e2f0f6" text-anchor="end">60</text>
<text x="437.00" y="411.88" font-size="4.8" fill="#e2f0f6" text-anchor="end">80</text>
<text x="437.00" y="405.68" font-size="4.8" fill="#e2f0f6" text-anchor="end">100</text>
<text x="437.00" y="399.48" font-size="4.8" fill="#e2f0f6" text-anchor="end">120</text>
<text x="437.00" y="393.28" font-size="4.8" fill="#e2f0f6" text-anchor="end">140</text>
<text x="437.00" y="387.08" font-size="4.8" fill="#e2f0f6" text-anchor="end">160</text>
<line x1="441.8" y1="435.3" x2="549.6" y2="435.3" stroke="#5c9ab8" stroke-width="0.8"/>
<rect x="469.00" y="396.10" width="23.80" height="39.20" fill="#8c8c8c"/>
<rect x="499.30" y="383.10" width="23.70" height="52.20" fill="#520f2f"/>
<text x="476.81" y="392.70" font-size="5.07" fill="#d5e9f1" textLength="8.61" lengthAdjust="spacingAndGlyphs">125</text>
<text x="507.01" y="382.30" font-size="4.93" fill="#d5e9f1" textLength="8.62" lengthAdjust="spacingAndGlyphs">168</text>
<polygon points="486.8,397.5 498.0,388.6 508.2,392.6 504.5,401.5 490.2,404.8" fill="#d81420"/>
<text x="0" y="0" font-size="8.2" fill="#ffffff" text-anchor="middle" transform="translate(497.2,399.8) rotate(-36)">34%</text>
<text x="468.18" y="443.10" font-size="4.86" fill="#d5e9f1" textLength="54.92" lengthAdjust="spacingAndGlyphs">CARPETAS ACUMULADAS</text>
<text x="595.86" y="364.80" font-size="7.96" fill="#2b3d58" textLength="75.27" lengthAdjust="spacingAndGlyphs" font-family="DejaVu Sans" style="font-family:'DejaVu Sans',sans-serif" stroke="#2b3d58" stroke-width="0.15">COMPARATIVO MENSUAL</text>
<text x="613.59" y="373.00" font-size="7.00" fill="#2b3d58" textLength="39.84" lengthAdjust="spacingAndGlyphs" font-family="DejaVu Sans" style="font-family:'DejaVu Sans',sans-serif" stroke="#2b3d58" stroke-width="0.15">2020 VS 2021</text>
<text x="577.30" y="437.75" font-size="5.0" fill="#66777f" text-anchor="end">0</text>
<text x="577.30" y="424.35" font-size="5.0" fill="#66777f" text-anchor="end">5</text>
<text x="577.30" y="410.95" font-size="5.0" fill="#66777f" text-anchor="end">10</text>
<text x="577.30" y="397.55" font-size="5.0" fill="#66777f" text-anchor="end">15</text>
<text x="577.30" y="384.15" font-size="5.0" fill="#66777f" text-anchor="end">20</text>
<line x1="580.7" y1="436.3" x2="691.8" y2="436.3" stroke="#c5d3da" stroke-width="0.8"/>
<rect x="609.00" y="384.90" width="24.20" height="51.40" fill="#898989"/>
<rect x="640.10" y="396.00" width="24.20" height="40.30" fill="#520f2f"/>
<text x="618.20" y="382.30" font-size="5.21" fill="#4a5560" textLength="5.85" lengthAdjust="spacingAndGlyphs">19</text>
<text x="649.73" y="392.20" font-size="5.07" fill="#4a5560" textLength="5.37" lengthAdjust="spacingAndGlyphs">15</text>
<g transform="translate(626.60,390.50) rotate(15.3)"><polygon points="0.00,-3.80 14.50,-3.80 14.50,-7.90 22.30,0.00 14.50,7.90 14.50,3.80 0.00,3.80" fill="#5e9b3c"/><text x="10.45" y="2.99" font-size="8.3" fill="#dff3c4" text-anchor="middle">21%</text></g>
<text x="627.29" y="443.70" font-size="4.86" fill="#6d7f8a" textLength="18.01" lengthAdjust="spacingAndGlyphs">AGOSTO</text>
<text x="746.37" y="364.80" font-size="7.96" fill="#d5e9f1" textLength="59.36" lengthAdjust="spacingAndGlyphs" font-family="DejaVu Sans" style="font-family:'DejaVu Sans',sans-serif" stroke="#d5e9f1" stroke-width="0.15">COMPARATIVO 2021</text>
<text x="723.91" y="373.50" font-size="8.23" fill="#d5e9f1" textLength="103.83" lengthAdjust="spacingAndGlyphs" font-family="DejaVu Sans" style="font-family:'DejaVu Sans',sans-serif" stroke="#d5e9f1" stroke-width="0.15">MES ANTERIOR VS MES EN CURSO</text>
<text x="719.10" y="436.95" font-size="5.0" fill="#e2f0f6" text-anchor="end">0</text>
<text x="719.10" y="428.20" font-size="5.0" fill="#e2f0f6" text-anchor="end">5</text>
<text x="719.10" y="419.45" font-size="5.0" fill="#e2f0f6" text-anchor="end">10</text>
<text x="719.10" y="410.70" font-size="5.0" fill="#e2f0f6" text-anchor="end">15</text>
<text x="719.10" y="401.95" font-size="5.0" fill="#e2f0f6" text-anchor="end">20</text>
<text x="719.10" y="393.20" font-size="5.0" fill="#e2f0f6" text-anchor="end">25</text>
<text x="719.10" y="384.45" font-size="5.0" fill="#e2f0f6" text-anchor="end">30</text>
<line x1="724" y1="435.5" x2="833" y2="435.5" stroke="#5c9ab8" stroke-width="0.8"/>
<rect x="751.00" y="389.30" width="24.60" height="46.20" fill="#8c8c8c"/>
<rect x="782.30" y="409.30" width="24.40" height="26.20" fill="#520f2f"/>
<text x="760.53" y="385.60" font-size="5.07" fill="#d5e9f1" textLength="6.01" lengthAdjust="spacingAndGlyphs">26</text>
<text x="791.89" y="405.40" font-size="5.50" fill="#d5e9f1" textLength="5.93" lengthAdjust="spacingAndGlyphs">15</text>
<g transform="translate(769.40,386.90) rotate(30.6)"><polygon points="0.00,-3.90 14.20,-3.90 14.20,-7.80 22.20,0.00 14.20,7.80 14.20,3.90 0.00,3.90" fill="#5e9b3c"/><text x="10.30" y="2.99" font-size="8.3" fill="#dff3c4" text-anchor="middle">42%</text></g>
<text x="753.19" y="443.70" font-size="5.00" fill="#d5e9f1" textLength="50.01" lengthAdjust="spacingAndGlyphs">CARPETAS MENSUALES</text>
</svg>
</body></html>
